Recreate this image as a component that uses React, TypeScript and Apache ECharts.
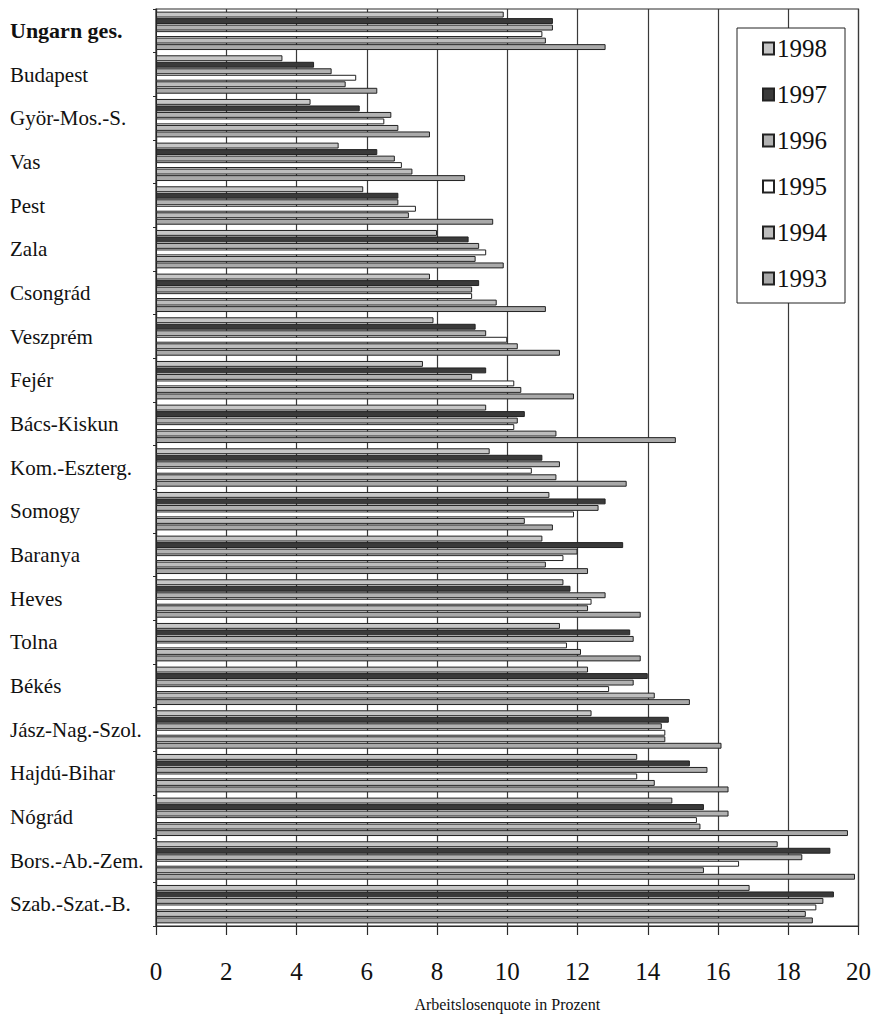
import React, { useEffect, useRef } from "react";
import * as echarts from "echarts";

const categories = [
  "Ungarn ges.", "Budapest", "Györ-Mos.-S.", "Vas", "Pest", "Zala", "Csongrád",
  "Veszprém", "Fejér", "Bács-Kiskun", "Kom.-Eszterg.", "Somogy", "Baranya",
  "Heves", "Tolna", "Békés", "Jász-Nag.-Szol.", "Hajdú-Bihar", "Nógrád",
  "Bors.-Ab.-Zem.", "Szab.-Szat.-B.",
];

const years = ["1998", "1997", "1996", "1995", "1994", "1993"];

const v1998 = [9.9, 3.6, 4.4, 5.2, 5.9, 8.0, 7.8, 7.9, 7.6, 9.4, 9.5, 11.2, 11.0, 11.6, 11.5, 12.3, 12.4, 13.7, 14.7, 17.7, 16.9];
const v1997 = [11.3, 4.5, 5.8, 6.3, 6.9, 8.9, 9.2, 9.1, 9.4, 10.5, 11.0, 12.8, 13.3, 11.8, 13.5, 14.0, 14.6, 15.2, 15.6, 19.2, 19.3];
const v1996 = [11.3, 5.0, 6.7, 6.8, 6.9, 9.2, 9.0, 9.4, 9.0, 10.3, 11.5, 12.6, 12.0, 12.8, 13.6, 13.6, 14.4, 15.7, 16.3, 18.4, 19.0];
const v1995 = [11.0, 5.7, 6.5, 7.0, 7.4, 9.4, 9.0, 10.0, 10.2, 10.2, 10.7, 11.9, 11.6, 12.4, 11.7, 12.9, 14.5, 13.7, 15.4, 16.6, 18.8];
const v1994 = [11.1, 5.4, 6.9, 7.3, 7.2, 9.1, 9.7, 10.3, 10.4, 11.4, 11.4, 10.5, 11.1, 12.3, 12.1, 14.2, 14.5, 14.2, 15.5, 15.6, 18.5];
const v1993 = [12.8, 6.3, 7.8, 8.8, 9.6, 9.9, 11.1, 11.5, 11.9, 14.8, 13.4, 11.3, 12.3, 13.8, 13.8, 15.2, 16.1, 16.3, 19.7, 19.9, 18.7];

const seriesValues = [v1998, v1997, v1996, v1995, v1994, v1993];
const fills = ["#c6c6c6", "#3a3a3a", "#b2b2b2", "#ffffff", "#bdbdbd", "#a9a9a9"];

const xTicks = ["0", "2", "4", "6", "8", "10", "12", "14", "16", "18", "20"];
const xName = "Arbeitslosenquote in Prozent";

const SERIF = "Liberation Serif";

export default function App() {
  const ref = useRef<HTMLDivElement>(null);

  useEffect(() => {
    document.body.style.margin = "0";
    if (!ref.current) return;
    const chart = echarts.init(ref.current, undefined, { renderer: "svg" });
    chart.setOption({
      animation: false,
      backgroundColor: "#ffffff",
      grid: {
        left: 156,
        right: 13,
        top: 9,
        bottom: 91,
        show: true,
        borderColor: "#2a2a2a",
        borderWidth: 1.2,
        backgroundColor: "#ffffff",
      },
      legend: {
        orient: "vertical",
        left: 737,
        top: 28,
        data: years,
        icon: "rect",
        itemWidth: 11,
        itemHeight: 12,
        itemGap: 21,
        padding: [8, 18, 12, 25],
        backgroundColor: "#ffffff",
        borderColor: "#222222",
        borderWidth: 1,
        borderRadius: 0,
        textStyle: {
          fontFamily: SERIF,
          fontSize: 25,
          lineHeight: 25,
          color: "#111111",
          padding: [0, 0, 0, -2],
        },
      },
      xAxis: {
        type: "value",
        min: 0,
        max: 20,
        interval: 2,
        axisLine: { show: true, lineStyle: { color: "#2a2a2a", width: 1.2 } },
        axisTick: { show: true, inside: false, length: 9, lineStyle: { color: "#2a2a2a", width: 1.2 } },
        splitLine: { show: true, lineStyle: { color: "#3a3a3a", width: 1.2 } },
        axisLabel: {
          margin: 33,
          fontFamily: SERIF,
          fontSize: 25,
          color: "#111111",
          formatter: (v: number) => xTicks[Math.round(v / 2)] ?? String(v),
        },
        name: xName,
        nameLocation: "middle",
        nameGap: 70,
        nameTextStyle: { fontFamily: SERIF, fontSize: 16, color: "#111111" },
      },
      yAxis: {
        type: "category",
        inverse: true,
        data: categories,
        axisLine: { show: true, lineStyle: { color: "#2a2a2a", width: 1.2 } },
        axisTick: { show: true, length: 3, alignWithLabel: false, lineStyle: { color: "#2a2a2a" } },
        splitLine: { show: false },
        axisLabel: {
          align: "left",
          margin: 146,
          fontFamily: SERIF,
          fontSize: 21,
          color: "#111111",
          formatter: (v: string, i: number) => (i === 0 ? `{b|${v}}` : v),
          rich: {
            b: { fontFamily: SERIF, fontSize: 22, fontWeight: "bold", color: "#111111" },
          },
        },
      },
      series: years.map((y, i) => ({
        name: y,
        type: "bar",
        data: seriesValues[i],
        barCategoryGap: "12%",
        barGap: "10%",
        itemStyle: { color: fills[i], borderColor: "#222222", borderWidth: 1 },
      })),
    });
    return () => chart.dispose();
  }, []);

  return <div ref={ref} style={{ width: 874, height: 1017 }} />;
}
